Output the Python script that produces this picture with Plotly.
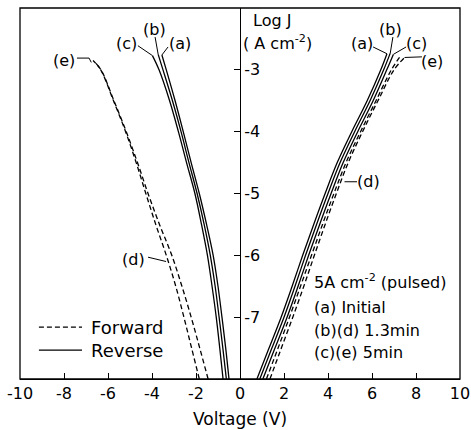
import plotly.graph_objects as go

# log J grid (A cm^-2) shared by all curves
logj = [-8, -7.5, -7, -6.5, -6, -5.5, -5, -4.5, -4, -3.5, -3]

# Right branch (positive voltage), V at each logJ level, plus top end point
right_a = [0.77, 1.32, 1.87, 2.37, 2.85, 3.35, 3.87, 4.42, 5.08, 5.78, 6.4]
right_a_top = (6.68, -2.74)
right_b = [0.9, 1.45, 2.0, 2.5, 2.98, 3.48, 4.0, 4.55, 5.21, 5.91, 6.53]
right_b_top = (6.83, -2.73)
right_c = [1.04, 1.59, 2.14, 2.64, 3.12, 3.62, 4.14, 4.69, 5.35, 6.05, 6.67]
right_c_top = (6.97, -2.75)
right_d = [1.2, 1.73, 2.25, 2.75, 3.25, 3.75, 4.27, 4.82, 5.48, 6.18, 6.88]
right_d_top = (7.25, -2.8)
right_e = [1.36, 1.88, 2.4, 2.9, 3.38, 3.87, 4.38, 4.92, 5.57, 6.27, 7.0]
right_e_top = (7.48, -2.8)

# Left branch (negative voltage)
left_a = [-0.5, -0.65, -0.82, -1.0, -1.22, -1.52, -1.85, -2.22, -2.58, -2.95, -3.35]
left_a_top = (-3.55, -2.76)
left_b = [-0.62, -0.78, -0.95, -1.13, -1.35, -1.63, -1.95, -2.32, -2.68, -3.07, -3.5]
left_b_top = (-3.72, -2.75)
left_c = [-0.77, -0.92, -1.08, -1.27, -1.48, -1.75, -2.05, -2.43, -2.8, -3.2, -3.68]
left_c_top = (-3.98, -2.77)
left_d = [-1.85, -2.2, -2.55, -2.92, -3.35, -3.83, -4.28, -4.72, -5.2, -5.75, -6.33]
left_d_top = (-6.64, -2.86)
left_e = [-1.45, -1.83, -2.22, -2.64, -3.1, -3.66, -4.18, -4.66, -5.17, -5.73, -6.32]
left_e_top = (-6.68, -2.85)

x_ticks = [-10, -8, -6, -4, -2, 0, 2, 4, 6, 8, 10]
x_ticktext = ["-10", "-8", "-6", "-4", "-2", "0", "2", "4", "6", "8", "10"]
y_ticks = [-7, -6, -5, -4, -3]
y_ticktext = ["-7", "-6", "-5", "-4", "-3"]

FONT = "DejaVu Sans"
fig = go.Figure()

curves = [
    (right_a, right_a_top, "solid"), (right_b, right_b_top, "solid"), (right_c, right_c_top, "solid"),
    (right_d, right_d_top, "5px,3px"), (right_e, right_e_top, "5px,3px"),
    (left_a, left_a_top, "solid"), (left_b, left_b_top, "solid"), (left_c, left_c_top, "solid"),
    (left_d, left_d_top, "5px,3px"), (left_e, left_e_top, "5px,3px"),
]
for vals, top, dash in curves:
    fig.add_trace(go.Scatter(
        x=vals + [top[0]], y=logj + [top[1]], mode="lines",
        line=dict(color="black", width=1.3, dash=dash, shape="spline", smoothing=1.0),
        showlegend=False, hoverinfo="skip"))

# curve labels with leader lines (data coords)
labels = [
    ("(c)", -5.14, -2.58, [(-4.64, -2.61), left_c_top]),
    ("(b)", -3.9, -2.34, [(-3.86, -2.47), left_b_top]),
    ("(a)", -2.73, -2.58, [(-3.27, -2.63), left_a_top]),
    ("(e)", -8.0, -2.85, [(-7.41, -2.81), (-6.86, -2.81), (-6.76, -2.88)]),
    ("(d)", -4.82, -6.06, [(-4.18, -6.03), (-3.36, -6.1)]),
    ("(a)", 5.55, -2.58, [(6.05, -2.63), right_a_top]),
    ("(b)", 6.82, -2.34, [(6.95, -2.47), right_b_top]),
    ("(c)", 8.0, -2.58, [(7.55, -2.63), right_c_top]),
    ("(e)", 8.73, -2.87, [(8.27, -2.79), right_e_top]),
    ("(d)", 5.82, -4.81, [(5.32, -4.81), (4.75, -4.81)]),
]
for txt, lx, ly, pts in labels:
    fig.add_annotation(x=lx, y=ly, text=txt, showarrow=False, yanchor="middle", xanchor="center",
                       font=dict(family=FONT, size=16, color="black"))
    fig.add_trace(go.Scatter(x=[p[0] for p in pts], y=[p[1] for p in pts], mode="lines",
                             line=dict(color="black", width=1), showlegend=False, hoverinfo="skip"))

# frame
fig.add_shape(type="rect", xref="paper", yref="paper", x0=0, x1=1, y0=0, y1=1,
              line=dict(color="black", width=1.3))

# manual legend
fig.add_shape(type="line", xref="paper", yref="paper", x0=0.043, x1=0.141, y0=0.140, y1=0.140,
              line=dict(color="black", width=1.3, dash="5px,3px"))
fig.add_shape(type="line", xref="paper", yref="paper", x0=0.043, x1=0.141, y0=0.078, y1=0.078,
              line=dict(color="black", width=1.3))
fig.add_annotation(xref="paper", yref="paper", x=0.157, y=0.140, text="Forward", showarrow=False,
                   xanchor="left", yanchor="middle", font=dict(family=FONT, size=18, color="black"))
fig.add_annotation(xref="paper", yref="paper", x=0.157, y=0.078, text="Reverse", showarrow=False,
                   xanchor="left", yanchor="middle", font=dict(family=FONT, size=18, color="black"))

# info text
info = ["5A cm<sup>-2</sup> (pulsed)", "(a) Initial", "(b)(d) 1.3min", "(c)(e) 5min"]
info_y = [0.262, 0.193, 0.132, 0.071]
for t, yy in zip(info, info_y):
    fig.add_annotation(xref="paper", yref="paper", x=0.664, y=yy, text=t, showarrow=False,
                       xanchor="left", yanchor="middle", font=dict(family=FONT, size=16, color="black"))

# y axis title
fig.add_annotation(xref="paper", yref="paper", x=0.573, y=0.965, text="Log J", showarrow=False,
                   xanchor="center", yanchor="middle", font=dict(family=FONT, size=16, color="black"))
fig.add_annotation(xref="paper", yref="paper", x=0.502, y=0.908, text="( A cm<sup>-2</sup>)",
                   showarrow=False, xanchor="left", yanchor="middle",
                   font=dict(family=FONT, size=16, color="black"))

fig.update_layout(
    width=471, height=430,
    margin=dict(l=20, r=11, t=8, b=51, autoexpand=False),
    paper_bgcolor="white", plot_bgcolor="white",
    font=dict(family=FONT, size=16, color="black"),
    xaxis=dict(range=[-10, 10], tickvals=x_ticks, ticktext=x_ticktext, ticks="inside",
               ticklen=6, tickwidth=1.2, tickcolor="black", showline=True, linecolor="black",
               linewidth=1.3, showgrid=False, zeroline=False,
               title=dict(text="Voltage (V)", standoff=10, font=dict(family=FONT, size=17)),
               tickfont=dict(family=FONT, size=16)),
    yaxis=dict(range=[-8, -2], tickvals=y_ticks, ticktext=y_ticktext, side="right",
               anchor="free", position=0.5, ticks="inside", ticklen=6, tickwidth=1.2,
               tickcolor="black", showline=True, linecolor="black", linewidth=1.3,
               showgrid=False, zeroline=False, tickfont=dict(family=FONT, size=16)),
)

fig.write_html("out.html")
